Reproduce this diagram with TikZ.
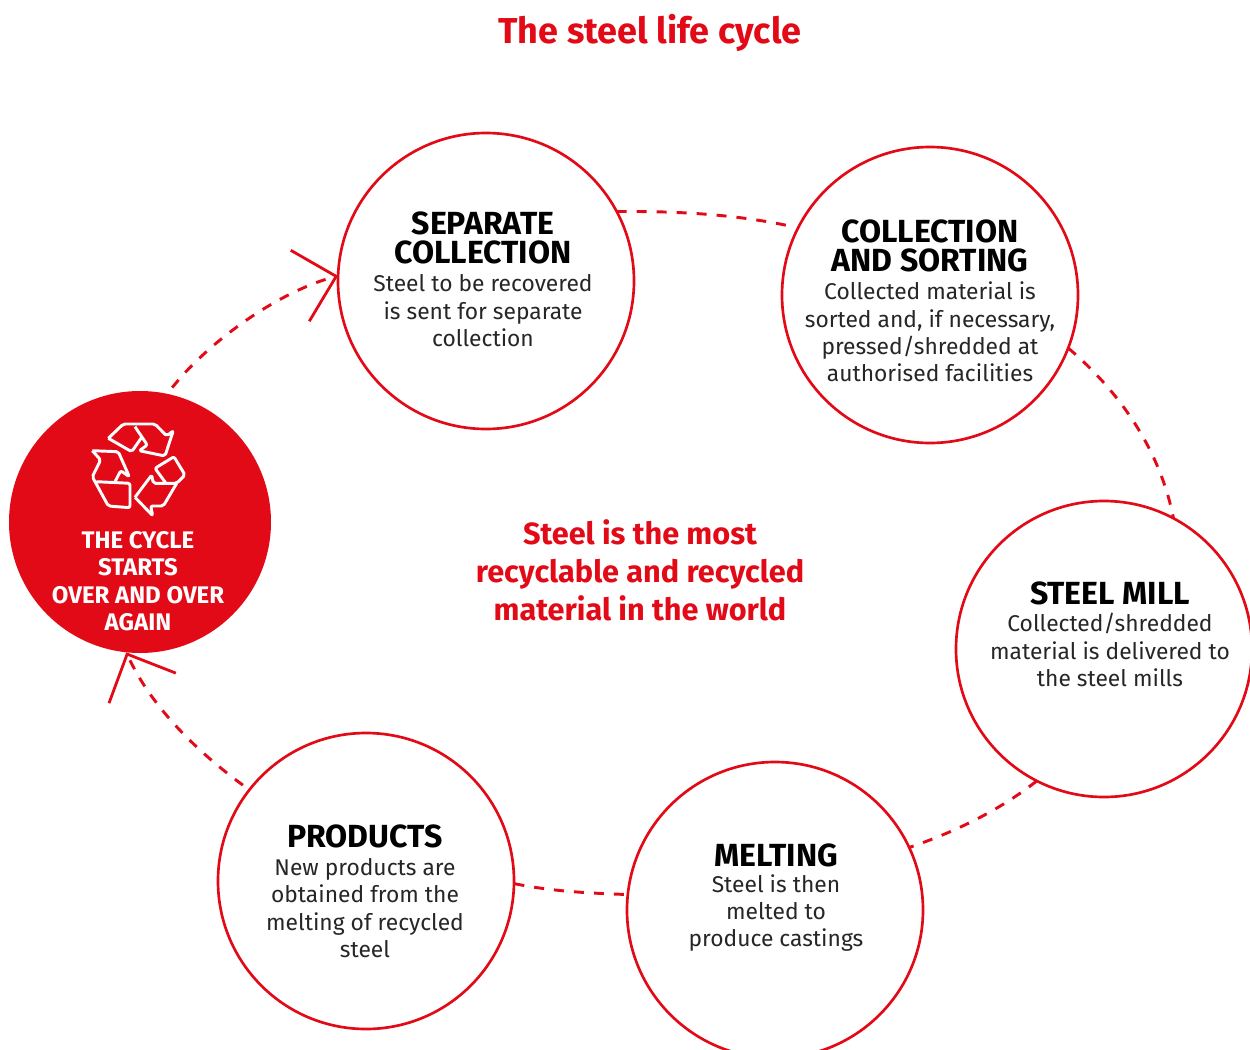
\documentclass[tikz,border=0pt]{standalone}
\usepackage{fontspec}
\setmainfont{Fira Sans}
\usetikzlibrary{arrows.meta}
\definecolor{steelred}{RGB}{227,10,23}
\tikzset{
  stage/.style={circle,draw=steelred,line width=2pt,fill=white,minimum size=222pt,inner sep=0pt,outer sep=0pt},
  cyclestage/.style={circle,fill=steelred,minimum size=196.5pt,inner sep=0pt,outer sep=0pt},
  linkline/.style={draw=steelred,line width=2.2pt,dash pattern=on 7.5pt off 7.5pt},
  bigbarb/.style={-{Straight Barb[length=28pt,width=55pt,line width=2.1pt]}},
  heading/.style={align=center,text=black,font=\bfseries\fontsize{24}{21.5}\selectfont,inner sep=0pt},
  bodytext/.style={align=center,text=black!85,font=\fontsize{17.1}{20.6}\selectfont,inner sep=0pt},
  redtext/.style={align=center,text=steelred,inner sep=0pt,font=\bfseries\fontsize{23}{28.5}\selectfont},
  icon/.style={draw=white,line width=2.2pt,line join=round,rounded corners=1.5pt}
}
\begin{document}
\begin{tikzpicture}[x=0.75pt,y=0.75pt,yscale=-1,xscale=1]
\useasboundingbox (0,0) rectangle (1250,1050);

%Title
\node[redtext,font=\bfseries\fontsize{27}{30}\selectfont] (title) at (650,33) {The steel life cycle};
\node[redtext] (claim) at (640,570) {Steel is the most\\recyclable and recycled\\material in the world};

%Circles
\node[stage] (separate) at (486,281) {};
\node[stage] (collection) at (930,295) {};
\node[stage] (mill) at (1104,649) {};
\node[stage] (melting) at (775,910) {};
\node[stage] (products) at (366,881) {};
\node[cyclestage] (cycle) at (140,522) {};

%Dashed links
\draw[linkline,shorten >=4pt] (separate.28) .. controls (675,211) and (735,214) .. (collection.153);
\draw[linkline] (collection.-21) .. controls (1120,392) and (1160,450) .. (mill.62);
\draw[linkline] (mill.243) .. controls (1000,810) and (955,832) .. (melting.25);
\draw[linkline,shorten <=3pt] (melting.174) .. controls (585,893) and (550,891) .. (products.-1);
\draw[linkline,bigbarb,shorten <=6pt] (products.142) .. controls (195,750) and (150,705) .. (cycle.264);
\draw[linkline,bigbarb,shorten <=6pt] (cycle.78) .. controls (210,340) and (280,291) .. (separate.178);

%Texts
\node[heading] (separateHead) at (483,238) {SEPARATE\\COLLECTION};
\node[bodytext] (separateBody) at (483,311) {Steel to be recovered\\is sent for separate\\collection};
\node[heading] (collectionHead) at (930,246) {COLLECTION\\AND SORTING};
\node[bodytext] (collectionBody) at (930,332) {Collected material is\\sorted and, if necessary,\\pressed/shredded at\\authorised facilities};
\node[heading] (millHead) at (1110,593) {STEEL MILL};
\node[bodytext] (millBody) at (1110,650) {Collected/shredded\\material is delivered to\\the steel mills};
\node[heading] (meltingHead) at (776,855) {MELTING};
\node[bodytext] (meltingBody) at (776,913) {Steel is then\\melted to\\produce castings};
\node[heading] (productsHead) at (365,836) {PRODUCTS};
\node[bodytext] (productsBody) at (365,908) {New products are\\obtained from the\\melting of recycled\\steel};
\node[align=center,text=white,inner sep=0pt,font=\bfseries\fontsize{18}{20.6}\selectfont] (cycleText) at (138,581) {THE CYCLE\\STARTS\\OVER AND OVER\\AGAIN};

%Recycling symbol
\draw[icon] (108.3,438.3) -- (123.3,424) -- (155,424) -- (166.7,436) -- (173.3,430.7) -- (165,456) -- (139.3,450.7) -- (147.3,445) -- (135,426.7);
\draw[icon] (108.3,438.3) -- (131.7,451.7) -- (141.7,437.3);
\draw[icon] (92.3,450.7) -- (118.3,451.7) -- (129.3,476.7) -- (120.7,470.7) -- (115,481.7);
\draw[icon] (92.3,450.7) -- (100.7,460) -- (92.3,476.7) -- (108.3,506) -- (130,507.7) -- (130,483.3) -- (96.7,481.7);
\draw[icon] (135,497.3) -- (151.7,475) -- (153.3,483.3) -- (176.7,483.3) -- (185,475) -- (174,456.7) -- (155,468.3) -- (166,483.3);
\draw[icon] (135,497.3) -- (152.7,515.7) -- (150.7,506) -- (163.3,506) -- (176.7,483.3);

\end{tikzpicture}
\end{document}
